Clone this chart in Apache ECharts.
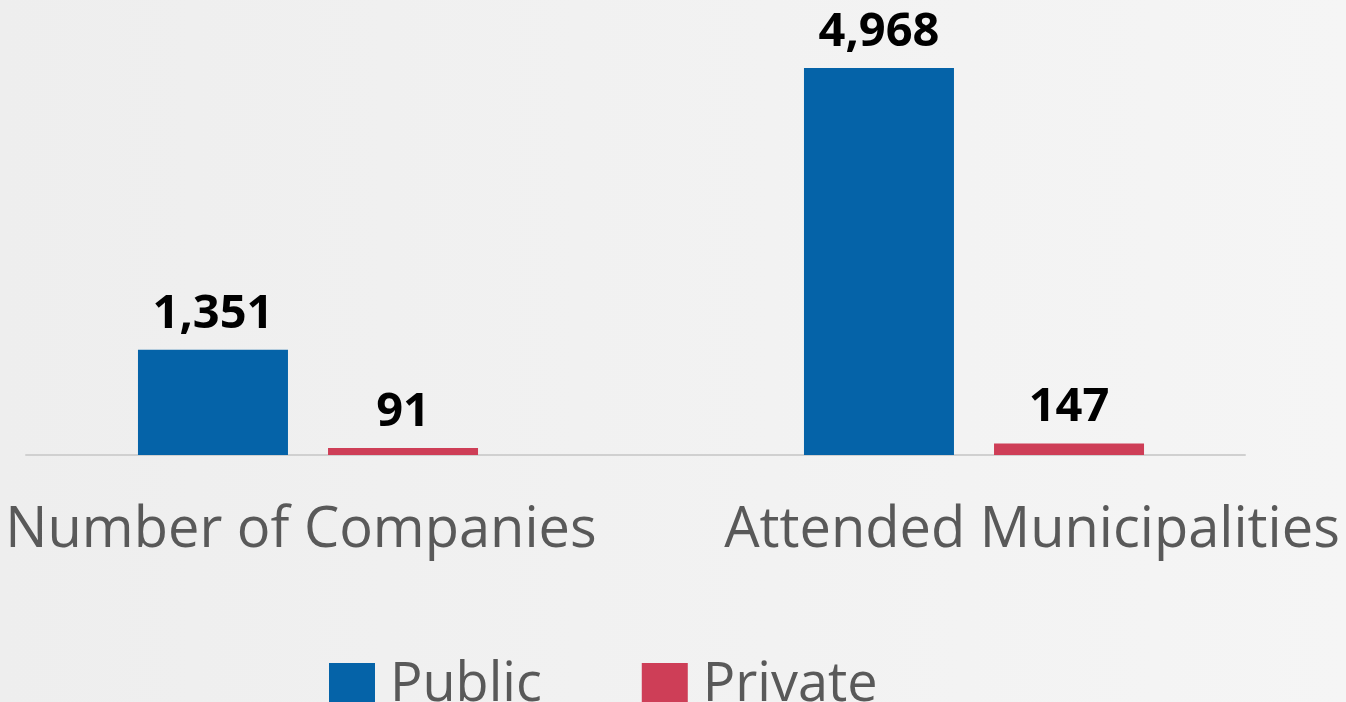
<!DOCTYPE html>
<html>
<head>
<meta charset="utf-8">
<script src="https://cdn.jsdelivr.net/npm/echarts@6/dist/echarts.min.js"></script>
<style>
  html, body { margin: 0; padding: 0; }
  #chart { width: 1346px; height: 702px; }
</style>
</head>
<body>
<div id="chart"></div>
<script>
const categories = ['Number of Companies', 'Attended Municipalities'];
const seriesNames = ['Public', 'Private'];
const publicValues = [1351, 4968];
const privateValues = [91, 147];

const FONT = '"Open Sans", "Noto Sans", sans-serif';
const chart = echarts.init(document.getElementById('chart'));

const valueLabel = {
  show: true,
  position: 'top',
  distance: 12,
  color: '#000000',
  fontFamily: FONT,
  fontWeight: 'bold',
  fontSize: 47,
  formatter: p => p.value.toLocaleString('en-US')
};

chart.setOption({
  backgroundColor: {
    type: 'linear', x: 0, y: 0, x2: 1, y2: 0,
    colorStops: [
      { offset: 0, color: '#eeeeee' },
      { offset: 1, color: '#f5f5f5' }
    ]
  },
  animation: false,
  legend: {
    left: 329,
    top: 659,
    padding: 0,
    itemWidth: 46,
    itemHeight: 46,
    itemGap: 100,
    icon: 'rect',
    data: seriesNames,
    textStyle: { fontFamily: FONT, fontSize: 54, color: '#595959', padding: [0, 0, 0, 10] }
  },
  grid: [
    // bar grid: category ticks sit on the grid edges (boundaryGap off)
    { left: 308, right: 372, top: 65.5, bottom: 247 },
    // grid carrying the baseline rule
    { left: 26, right: 101, top: 65.5, bottom: 247 }
  ],
  xAxis: [
    {
      type: 'category',
      gridIndex: 0,
      boundaryGap: false,
      data: categories,
      axisLine: { show: false },
      axisTick: { show: false },
      axisLabel: {
        margin: 48,
        interval: 0,
        formatter: (v, i) => (i === 0 ? '{a|' + v + '}' : '{b|' + v + '}'),
        rich: {
          a: { fontFamily: FONT, fontSize: 56, color: '#595959', padding: [0, 14, 0, 0] },
          b: { fontFamily: FONT, fontSize: 56, color: '#595959', padding: [0, 0, 0, 116] }
        }
      }
    },
    {
      type: 'category',
      gridIndex: 1,
      data: categories,
      axisLine: { show: true, lineStyle: { color: '#d0d0d0', width: 2 } },
      axisTick: { show: false },
      axisLabel: { show: false }
    }
  ],
  yAxis: [
    { type: 'value', gridIndex: 0, min: 0, max: 5000, show: false, splitLine: { show: false } },
    { type: 'value', gridIndex: 1, min: 0, max: 5000, show: false, splitLine: { show: false } }
  ],
  series: [
    {
      name: seriesNames[0],
      type: 'bar',
      xAxisIndex: 0, yAxisIndex: 0,
      data: publicValues,
      barWidth: 150,
      barGap: '26.7%',
      clip: false,
      itemStyle: { color: '#0563a8' },
      label: valueLabel
    },
    {
      name: seriesNames[1],
      type: 'bar',
      xAxisIndex: 0, yAxisIndex: 0,
      data: privateValues,
      barWidth: 150,
      barGap: '26.7%',
      clip: false,
      itemStyle: { color: '#ce3e57' },
      label: valueLabel
    }
  ]
});
</script>
</body>
</html>
